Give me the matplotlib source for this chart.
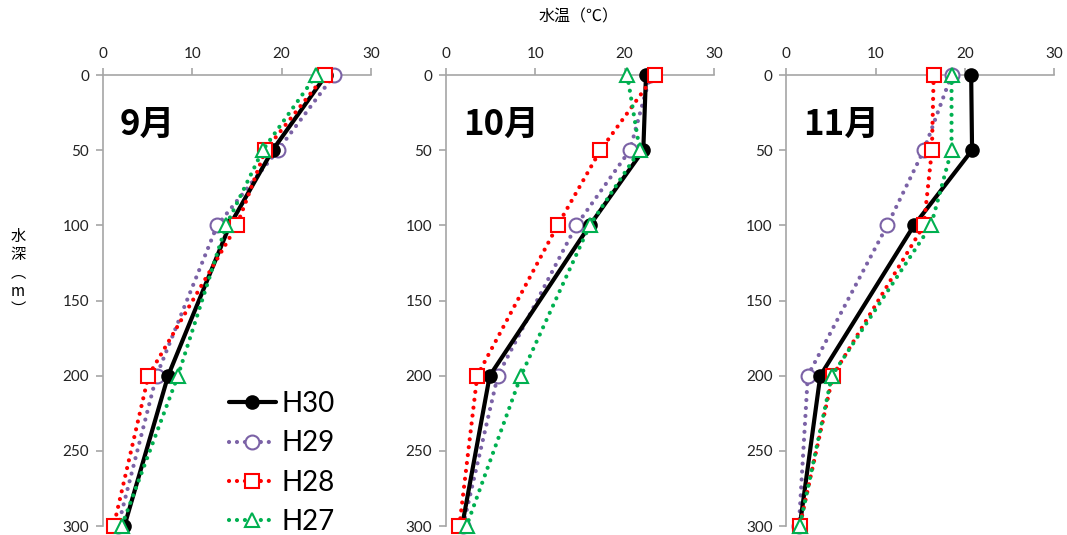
import matplotlib

matplotlib.use("Agg")
import matplotlib.pyplot as plt

plt.rcParams["font.family"] = ["Lato", "Noto Sans CJK JP", "DejaVu Sans"]

depths = [0, 50, 100, 200, 300]
months = ["9月", "10月", "11月"]
series_names = ["H30", "H29", "H28", "H27"]

# water temperature (deg C) by depth
sep_h30 = [25.0, 19.0, 14.2, 7.3, 2.4]
sep_h29 = [25.9, 19.6, 12.8, 6.0, 1.7]
sep_h28 = [24.9, 18.2, 15.0, 5.1, 1.2]
sep_h27 = [23.9, 17.9, 13.8, 8.4, 2.1]

oct_h30 = [22.4, 22.1, 16.1, 4.9, 1.8]
oct_h29 = [22.9, 20.6, 14.6, 5.8, 1.9]
oct_h28 = [23.4, 17.3, 12.5, 3.5, 1.5]
oct_h27 = [20.3, 21.7, 16.1, 8.4, 2.3]

nov_h30 = [20.7, 20.8, 14.3, 3.8, 1.5]
nov_h29 = [18.5, 15.4, 11.3, 2.4, 1.4]
nov_h28 = [16.5, 16.3, 15.4, 5.2, 1.5]
nov_h27 = [18.5, 18.5, 16.2, 5.1, 1.5]

x_ticks = [0, 10, 20, 30]
y_ticks = [0, 50, 100, 150, 200, 250, 300]

month_data = [
    [sep_h30, sep_h29, sep_h28, sep_h27],
    [oct_h30, oct_h29, oct_h28, oct_h27],
    [nov_h30, nov_h29, nov_h28, nov_h27],
]

DOTS = (0, (0.01, 1.9))
styles = {
    "H30": dict(color="black", lw=3.0, ls="-", marker="o", ms=9, mfc="black", mec="black", zorder=4),
    "H29": dict(color="#7b62a6", lw=3.0, ls=DOTS, marker="o", ms=10, mfc="white", mec="#7b62a6", zorder=3),
    "H28": dict(color="#ff0000", lw=3.0, ls=DOTS, marker="s", ms=10, mfc="white", mec="#ff0000", zorder=5),
    "H27": dict(color="#00b050", lw=3.0, ls=DOTS, marker="^", ms=10, mfc="white", mec="#00b050", zorder=6),
}

fig = plt.figure(figsize=(10.67, 5.35), dpi=100)
lefts = [0.0965, 0.418, 0.737]
axes = []
for left in lefts:
    axes.append(fig.add_axes([left, 0.0168, 0.251, 0.843]))

for ax, month, values in zip(axes, months, month_data):
    for name, temps in zip(series_names, values):
        st = styles[name]
        ax.plot(
            temps, depths, label=name, color=st["color"], lw=st["lw"], ls=st["ls"],
            marker=st["marker"], markersize=st["ms"], markerfacecolor=st["mfc"],
            markeredgecolor=st["mec"], markeredgewidth=1.5, zorder=st["zorder"],
            clip_on=False, dash_capstyle="round", solid_capstyle="round",
        )
    ax.set_xlim(0, 30)
    ax.set_ylim(300, 0)
    ax.set_xticks(x_ticks)
    ax.set_yticks(y_ticks)
    ax.xaxis.tick_top()
    ax.spines["right"].set_visible(False)
    ax.spines["bottom"].set_visible(False)
    for side in ("left", "top"):
        ax.spines[side].set_color("#a6a6a6")
        ax.spines[side].set_linewidth(1.2)
    ax.tick_params(axis="both", direction="out", length=5, width=1.2, color="#a6a6a6",
                   labelsize=11, labelcolor="#222222", pad=5)
    ax.patch.set_alpha(0)
    ax.text(1.9, 33, month, fontsize=25, fontweight="bold", va="center", ha="left",
            family=["Noto Sans CJK JP", "DejaVu Sans"])

axes[0].legend(
    loc="lower left", bbox_to_anchor=(0.47, -0.02), frameon=False, fontsize=20,
    handlelength=1.7, handletextpad=0.2, labelspacing=0.48, borderpad=0, borderaxespad=0,
)

fig.text(0.542, 0.968, "水温（℃）", fontsize=11.5, ha="center", va="center",
         family=["Noto Sans CJK JP", "DejaVu Sans"])
fig.text(0.017, 0.49, "水\n深\n︵\nm\n︶", fontsize=11, ha="center", va="center", linespacing=1.1,
         family=["Noto Sans CJK JP", "DejaVu Sans"])

fig.savefig("out.png", dpi=100)
